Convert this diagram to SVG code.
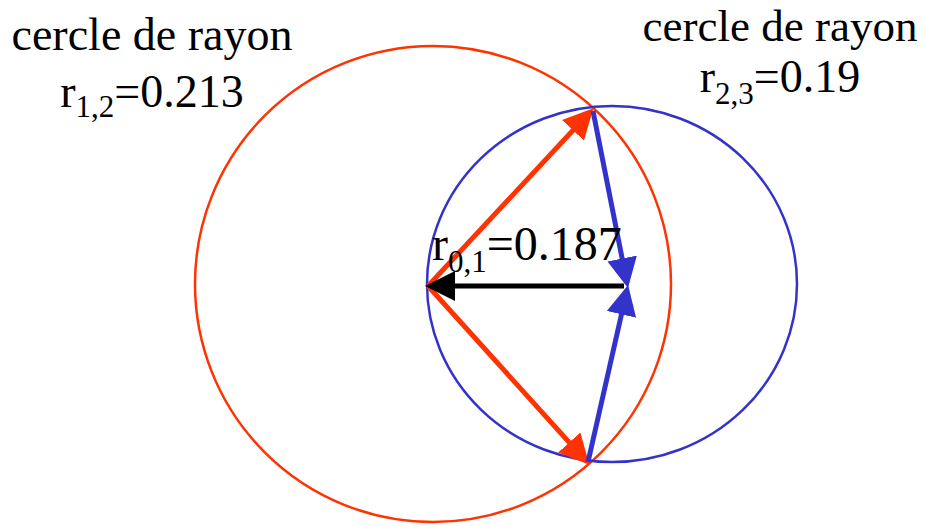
<svg xmlns="http://www.w3.org/2000/svg" width="927" height="527" viewBox="0 0 927 527">
<style>
text{font-family:"Liberation Serif","Times New Roman",serif;font-size:46px;fill:#000}
.sub{font-size:31px}
.big{font-size:48px}
.top{font-size:45px}
.red{stroke:#FF3300;fill:none}
.blue{stroke:#3333CC;fill:none}
</style>
<defs>
<marker id="ar" markerWidth="6" markerHeight="6" refX="5" refY="3" orient="auto" markerUnits="strokeWidth"><path d="M0,0 L6,3 L0,6 Z" fill="#FF3300"/></marker>
<marker id="ab" markerWidth="6" markerHeight="6" refX="5" refY="3" orient="auto" markerUnits="strokeWidth"><path d="M0,0 L6,3 L0,6 Z" fill="#3333CC"/></marker>
<marker id="ak" markerWidth="6" markerHeight="6" refX="5" refY="3" orient="auto" markerUnits="strokeWidth"><path d="M0,0 L6,3 L0,6 Z" fill="#000"/></marker>
</defs>
<g id="circle12"><circle class="red" cx="433" cy="284" r="238" stroke-width="2.5"/></g>
<g id="circle23"><ellipse class="blue" cx="612" cy="284" rx="185" ry="178" stroke-width="2.5"/></g>
<g id="connectors" stroke-width="5">
<line class="red" x1="428" y1="286" x2="590" y2="112" marker-end="url(#ar)"/>
<line class="red" x1="428" y1="286" x2="586" y2="461" marker-end="url(#ar)"/>
<line class="blue" x1="593" y1="111" x2="627" y2="283" marker-end="url(#ab)"/>
<line class="blue" x1="588" y1="462" x2="627" y2="290" marker-end="url(#ab)"/>
<line x1="624" y1="286" x2="430" y2="286" stroke="#000" marker-end="url(#ak)"/>
</g>
<g id="label12">
<text x="152" y="50" text-anchor="middle">cercle de rayon</text>
<text x="152" y="107" text-anchor="middle">r<tspan class="sub" dy="10">1,2</tspan><tspan dy="-10">=0.213</tspan></text>
</g>
<g id="label23">
<text class="top" x="780" y="41" text-anchor="middle">cercle de rayon</text>
<text x="780" y="92" text-anchor="middle">r<tspan class="sub" dy="12">2,3</tspan><tspan dy="-12">=0.19</tspan></text>
</g>
<g id="label01">
<text class="big" x="432" y="260">r<tspan class="sub" dy="12">0,1</tspan><tspan dy="-12">=0.187</tspan></text>
</g>
</svg>
